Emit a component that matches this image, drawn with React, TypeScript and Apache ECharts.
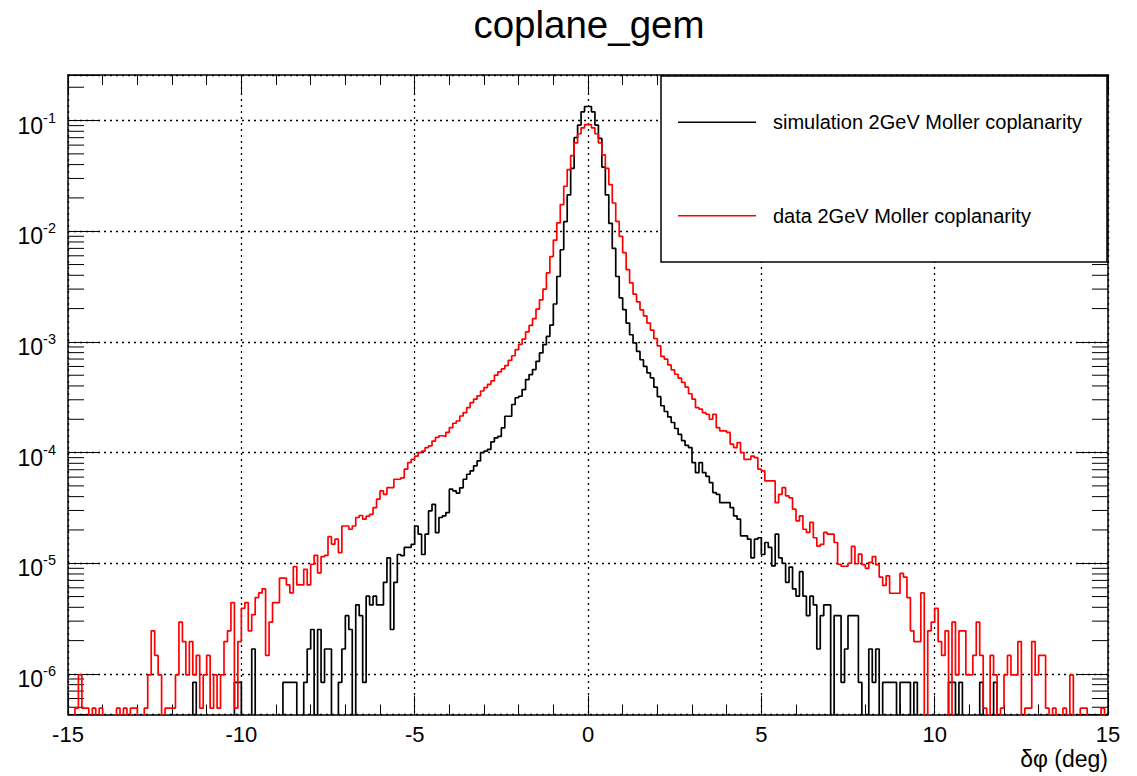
import React, { useEffect, useRef } from 'react';
import * as echarts from 'echarts';

// ---- axis ranges & bins ----
const X_MIN = -15;
const X_MAX = 15;
const BIN_WIDTH = 0.1;
const Y_MIN = 4.3e-7;
const Y_MAX = 0.258;
const ZERO_FLOOR = 1e-9; // empty bins drawn below the visible range

// ---- texts ----
const TITLE = 'coplane_gem';
const SIM_NAME = 'simulation 2GeV Moller coplanarity';
const DATA_NAME = 'data 2GeV Moller coplanarity';
const X_TITLE = 'δφ (deg)';

// ---- tick definitions ----
const xMajorStep = 5;
const decadeExponents = [-7, -6, -5, -4, -3, -2, -1];
const minorFactors = [2, 3, 4, 5, 6, 7, 8, 9];

// ---- histogram contents (300 bins of 0.1 deg from -15 to 15) ----
const simValues = [
  0, 0, 0, 0, 0, 0, 0, 0, 0, 0,
  0, 0, 0, 0, 0, 0, 0, 0, 0, 0,
  0, 0, 0, 0, 0, 0, 0, 0, 0, 0,
  0, 0, 0, 0, 0, 0, 8.4e-7, 0, 0, 0,
  0, 0, 0, 0, 0, 0, 0, 0, 8.4e-7, 8.4e-7,
  0, 0, 0, 1.68e-6, 0, 0, 0, 0, 0, 0,
  0, 0, 8.4e-7, 8.4e-7, 8.4e-7, 8.4e-7, 0, 0, 8.4e-7, 1.68e-6,
  2.52e-6, 0, 2.52e-6, 8.4e-7, 1.68e-6, 1.68e-6, 0, 0, 8.4e-7, 1.68e-6,
  3.36e-6, 2.52e-6, 0, 4.2e-6, 3.36e-6, 8.4e-7, 5.04e-6, 4.2e-6, 5.04e-6, 4.2e-6,
  4.2e-6, 6.72e-6, 1.12e-5, 2.52e-6, 6.72e-6, 1.2e-5, 1.17e-5, 1.39e-5, 1.39e-5, 1.48e-5,
  2.17e-5, 1.83e-5, 1.2e-5, 1.83e-5, 2.97e-5, 3.41e-5, 1.89e-5, 2.59e-5, 2.68e-5, 2.87e-5,
  4.67e-5, 4.5e-5, 4.3e-5, 4.8e-5, 5.74e-5, 6.37e-5, 6.84e-5, 7.59e-5, 8.4e-5, 1.0e-4,
  1.03e-4, 1.07e-4, 1.25e-4, 1.36e-4, 1.4e-4, 1.67e-4, 2.13e-4, 2.13e-4, 2.72e-4, 3.13e-4,
  3.23e-4, 3.71e-4, 4.57e-4, 5.07e-4, 5.62e-4, 6.68e-4, 7.95e-4, 9.46e-4, 1.12e-3, 1.42e-3,
  2.2e-3, 3.9e-3, 6.8e-3, 1.22e-2, 2.13e-2, 3.7e-2, 7.0e-2, 9.1e-2, 0.12, 0.134,
  0.134, 0.12, 9.1e-2, 6.9e-2, 3.8e-2, 2.13e-2, 1.18e-2, 7.0e-3, 3.9e-3, 2.5e-3,
  1.96e-3, 1.48e-3, 1.16e-3, 9.8e-4, 8.2e-4, 6.9e-4, 6.0e-4, 5.25e-4, 4.73e-4, 3.9e-4,
  3.2e-4, 2.65e-4, 2.35e-4, 2.1e-4, 1.87e-4, 1.65e-4, 1.46e-4, 1.28e-4, 1.16e-4, 1.11e-4,
  8.13e-5, 6.6e-5, 8.13e-5, 6.6e-5, 6.1e-5, 5.36e-5, 4.35e-5, 4.2e-5, 3.53e-5, 3.53e-5,
  3.53e-5, 3.18e-5, 2.68e-5, 2.5e-5, 1.77e-5, 1.77e-5, 1.65e-5, 1.12e-5, 1.65e-5, 1.7e-5,
  1.2e-5, 1.54e-5, 1.39e-5, 9.46e-6, 1.83e-5, 1.12e-5, 1.0e-5, 6.72e-6, 9.24e-6, 5.88e-6,
  5.04e-6, 8.4e-6, 5.04e-6, 3.36e-6, 5.04e-6, 4.2e-6, 1.68e-6, 3.36e-6, 4.2e-6, 4.2e-6,
  0, 3.36e-6, 3.36e-6, 8.4e-7, 1.68e-6, 3.36e-6, 3.36e-6, 3.36e-6, 8.4e-7, 0,
  0, 1.68e-6, 8.4e-7, 1.68e-6, 0, 8.4e-7, 8.4e-7, 8.4e-7, 8.4e-7, 0,
  8.4e-7, 8.4e-7, 8.4e-7, 0, 8.4e-7, 0, 0, 0, 0, 0,
  0, 0, 0, 0, 8.4e-7, 8.4e-7, 0, 8.4e-7, 0, 0,
  0, 0, 0, 8.4e-7, 0, 0, 0, 8.4e-7, 0, 0,
  0, 0, 0, 0, 0, 0, 0, 0, 0, 0,
  0, 0, 0, 0, 0, 0, 0, 0, 0, 0,
  0, 0, 0, 0, 0, 0, 0, 0, 0, 0,
];

const dataValues = [
  0, 0, 4.9e-7, 9.8e-7, 4.9e-7, 4.9e-7, 0, 4.9e-7, 0, 4.9e-7,
  0, 0, 0, 0, 4.9e-7, 0, 4.9e-7, 0, 4.9e-7, 4.9e-7,
  0, 0, 4.9e-7, 9.8e-7, 2.45e-6, 1.47e-6, 9.8e-7, 0, 4.9e-7, 4.9e-7,
  4.9e-7, 9.8e-7, 2.94e-6, 1.96e-6, 9.8e-7, 1.96e-6, 9.8e-7, 1.47e-6, 4.9e-7, 9.8e-7,
  1.47e-6, 4.9e-7, 9.8e-7, 4.9e-7, 9.8e-7, 1.96e-6, 2.45e-6, 4.41e-6, 4.9e-7, 1.96e-6,
  3.92e-6, 4.41e-6, 2.45e-6, 3.43e-6, 4.9e-6, 5.39e-6, 5.88e-6, 1.47e-6, 2.94e-6, 4.41e-6,
  4.41e-6, 7.35e-6, 7.35e-6, 6.37e-6, 5.39e-6, 9.31e-6, 6.37e-6, 6.37e-6, 8.82e-6, 6.37e-6,
  9.8e-6, 1.18e-5, 8.2e-6, 1.15e-5, 1.18e-5, 1.74e-5, 1.49e-5, 1.65e-5, 1.25e-5, 2.17e-5,
  2.17e-5, 2.03e-5, 2.17e-5, 2.59e-5, 2.7e-5, 2.5e-5, 2.67e-5, 2.77e-5, 3.18e-5, 3.79e-5,
  4.5e-5, 4.2e-5, 4.83e-5, 4.83e-5, 5.74e-5, 5.74e-5, 5.9e-5, 7.08e-5, 8.13e-5, 8.7e-5,
  9.3e-5, 1.0e-4, 1.03e-4, 1.11e-4, 1.15e-4, 1.27e-4, 1.37e-4, 1.42e-4, 1.4e-4, 1.52e-4,
  1.68e-4, 1.84e-4, 1.93e-4, 2.14e-4, 2.3e-4, 2.55e-4, 2.83e-4, 3.04e-4, 3.26e-4, 3.6e-4,
  3.87e-4, 4.14e-4, 4.44e-4, 5.0e-4, 5.35e-4, 5.7e-4, 6.1e-4, 6.8e-4, 7.5e-4, 8.5e-4,
  9.5e-4, 1.06e-3, 1.23e-3, 1.41e-3, 1.62e-3, 1.98e-3, 2.4e-3, 3.0e-3, 4.2e-3, 5.9e-3,
  8.3e-3, 1.19e-2, 1.74e-2, 2.55e-2, 3.61e-2, 4.83e-2, 6.28e-2, 7.6e-2, 8.6e-2, 9.2e-2,
  9.2e-2, 8.6e-2, 7.6e-2, 6.28e-2, 4.9e-2, 3.7e-2, 2.64e-2, 1.8e-2, 1.23e-2, 9.0e-3,
  6.4e-3, 4.5e-3, 3.41e-3, 2.7e-3, 2.3e-3, 1.95e-3, 1.72e-3, 1.48e-3, 1.28e-3, 1.07e-3,
  9.2e-4, 7.4e-4, 7.0e-4, 6.2e-4, 5.6e-4, 5.1e-4, 4.7e-4, 4.3e-4, 3.9e-4, 3.4e-4,
  3.04e-4, 2.55e-4, 2.47e-4, 2.3e-4, 2.22e-4, 2.0e-4, 2.22e-4, 1.68e-4, 1.57e-4, 1.57e-4,
  1.52e-4, 1.19e-4, 1.11e-4, 1.23e-4, 1.0e-4, 8.7e-5, 8.7e-5, 9.3e-5, 9.0e-5, 7.1e-5,
  6.84e-5, 5.55e-5, 5.55e-5, 5.55e-5, 3.53e-5, 4.2e-5, 4.83e-5, 4.06e-5, 3.9e-5, 3.08e-5,
  2.42e-5, 2.68e-5, 2.03e-5, 1.9e-5, 2.34e-5, 1.7e-5, 1.43e-5, 1.48e-5, 1.9e-5, 1.83e-5,
  1.83e-5, 1.54e-5, 9.8e-6, 9.4e-6, 9.4e-6, 1.0e-5, 1.42e-5, 9.9e-6, 1.21e-5, 9.7e-6,
  9.0e-6, 1.02e-5, 1.15e-5, 9.7e-6, 7.5e-6, 6.3e-6, 7.7e-6, 5.36e-6, 5.36e-6, 5.36e-6,
  8.1e-6, 7.5e-6, 4.9e-6, 2.45e-6, 1.96e-6, 1.96e-6, 5.39e-6, 0, 2.45e-6, 2.94e-6,
  3.92e-6, 1.96e-6, 1.47e-6, 2.45e-6, 0, 2.94e-6, 9.8e-7, 2.45e-6, 2.45e-6, 9.8e-7,
  9.8e-7, 1.47e-6, 2.94e-6, 1.47e-6, 4.9e-7, 0, 1.47e-6, 9.8e-7, 0, 4.9e-7,
  9.8e-7, 1.47e-6, 9.8e-7, 9.8e-7, 1.96e-6, 0, 4.9e-7, 4.9e-7, 1.96e-6, 9.8e-7,
  1.47e-6, 1.47e-6, 4.9e-7, 0, 4.9e-7, 0, 0, 4.9e-7, 0, 9.8e-7,
  0, 0, 4.9e-7, 4.9e-7, 0, 0, 0, 0, 4.9e-7, 0,
];

const FONT = '"Liberation Sans", Helvetica, Arial, sans-serif';

function toSteps(values: number[]): number[][] {
  const pts = values.map((v, i) => [X_MIN + i * BIN_WIDTH, v > 0 ? v : ZERO_FLOOR]);
  const last = values[values.length - 1];
  pts.push([X_MAX, last > 0 ? last : ZERO_FLOOR]);
  return pts;
}

function minorTickValues(): number[] {
  const out: number[] = [];
  decadeExponents.forEach((e) => {
    minorFactors.forEach((f) => {
      const v = f * Math.pow(10, e);
      if (v > Y_MIN && v < Y_MAX) out.push(v);
    });
  });
  return out;
}

function buildOption(): any {
  const dotted = { color: '#000', width: 1.3, type: [2, 4] };
  const frameLine = { show: true, onZero: false, lineStyle: { color: '#000', width: 1.5 } };
  return {
    animation: false,
    backgroundColor: '#fff',
    textStyle: { fontFamily: FONT },
    title: {
      text: TITLE,
      left: 584,
      top: 0,
      textAlign: 'center',
      textStyle: { fontFamily: FONT, fontSize: 38.5, fontWeight: 'normal', color: '#000' },
    },
    grid: { left: 68, top: 75, right: 29, bottom: 61.5, containLabel: false },
    xAxis: [
      {
        type: 'value',
        min: X_MIN,
        max: X_MAX,
        interval: xMajorStep,
        position: 'bottom',
        axisLine: frameLine,
        axisTick: { show: true, inside: true, length: 19, lineStyle: { color: '#000', width: 1 } },
        minorTick: { show: true, splitNumber: 5, length: 10, lineStyle: { color: '#000', width: 1 } },
        axisLabel: { color: '#000', fontSize: 22, fontFamily: FONT, margin: 9 },
        splitLine: { show: true, lineStyle: dotted },
        name: X_TITLE,
        nameLocation: 'end',
        nameGap: 0,
        nameTextStyle: {
          fontFamily: FONT,
          fontSize: 23,
          color: '#000',
          align: 'right',
          verticalAlign: 'top',
          padding: [33, 0, 0, 0],
        },
      },
      {
        type: 'value',
        min: X_MIN,
        max: X_MAX,
        interval: xMajorStep,
        position: 'top',
        axisLine: frameLine,
        axisTick: { show: true, inside: true, length: 19, lineStyle: { color: '#000', width: 1 } },
        minorTick: { show: true, splitNumber: 5, length: 10, lineStyle: { color: '#000', width: 1 } },
        axisLabel: { show: false },
        splitLine: { show: false },
      },
    ],
    yAxis: [
      {
        type: 'log',
        logBase: 10,
        min: Y_MIN,
        max: Y_MAX,
        position: 'left',
        axisLine: frameLine,
        axisTick: { show: true, inside: true, length: 31, lineStyle: { color: '#000', width: 1 } },
        axisLabel: {
          margin: 12,
          padding: [6, 0, 0, 0],
          formatter: (v: number) => {
            const e = Math.log10(v);
            const r = Math.round(e);
            if (Math.abs(e - r) > 1e-6) return '';
            return `{b|10}{s|${r}}`;
          },
          rich: {
            b: { fontFamily: FONT, fontSize: 23, color: '#000', lineHeight: 27, verticalAlign: 'bottom' },
            s: { fontFamily: FONT, fontSize: 14.5, color: '#000', lineHeight: 17, verticalAlign: 'top' },
          },
        },
        splitLine: { show: true, lineStyle: dotted },
      },
      {
        type: 'log',
        logBase: 10,
        min: Y_MIN,
        max: Y_MAX,
        position: 'right',
        axisLine: frameLine,
        axisTick: { show: true, inside: true, length: 31, lineStyle: { color: '#000', width: 1 } },
        axisLabel: { show: false },
        splitLine: { show: false },
      },
    ],
    legend: {
      orient: 'vertical',
      left: 678,
      top: 110.3,
      padding: 0,
      itemWidth: 78,
      itemHeight: 1.5,
      itemGap: 69.4,
      z: 60,
      selectedMode: false,
      textStyle: { fontFamily: FONT, fontSize: 20, color: '#000', lineHeight: 24, padding: [0, 0, 0, 12] },
      data: [
        { name: SIM_NAME, icon: 'rect' },
        { name: DATA_NAME, icon: 'rect' },
      ],
    },
    graphic: [
      {
        type: 'rect',
        z: 50,
        shape: { x: 661, y: 76, width: 446, height: 186 },
        style: { fill: '#fff', stroke: '#000', lineWidth: 1.5 },
      },
    ],
    series: [
      {
        name: 'yMinorTicks',
        type: 'custom',
        xAxisIndex: 0,
        yAxisIndex: 0,
        silent: true,
        z: 3,
        clip: false,
        data: minorTickValues().map((v) => [0, v]),
        renderItem: (params: any, api: any) => {
          const y = api.coord([0, api.value(1)])[1];
          const cs = params.coordSys;
          return {
            type: 'group',
            children: [
              { type: 'line', shape: { x1: cs.x, y1: y, x2: cs.x + 16, y2: y }, style: { stroke: '#000', lineWidth: 1 } },
              {
                type: 'line',
                shape: { x1: cs.x + cs.width - 16, y1: y, x2: cs.x + cs.width, y2: y },
                style: { stroke: '#000', lineWidth: 1 },
              },
            ],
          };
        },
      },
      {
        name: SIM_NAME,
        type: 'line',
        xAxisIndex: 0,
        yAxisIndex: 0,
        step: 'end',
        showSymbol: false,
        symbol: 'none',
        clip: true,
        color: '#000000',
        lineStyle: { color: '#000000', width: 1.7 },
        data: toSteps(simValues),
      },
      {
        name: DATA_NAME,
        type: 'line',
        xAxisIndex: 0,
        yAxisIndex: 0,
        step: 'end',
        showSymbol: false,
        symbol: 'none',
        clip: true,
        color: '#ff0000',
        lineStyle: { color: '#ff0000', width: 1.7 },
        data: toSteps(dataValues),
      },
    ],
  };
}

export default function App() {
  const ref = useRef<HTMLDivElement>(null);
  useEffect(() => {
    if (!ref.current) return;
    const chart = echarts.init(ref.current, null, { renderer: 'svg' });
    chart.setOption(buildOption());
    return () => {
      chart.dispose();
    };
  }, []);
  return (
    <div
      ref={ref}
      style={{ position: 'fixed', left: 0, top: 0, width: 1137, height: 776, background: '#fff' }}
    />
  );
}
